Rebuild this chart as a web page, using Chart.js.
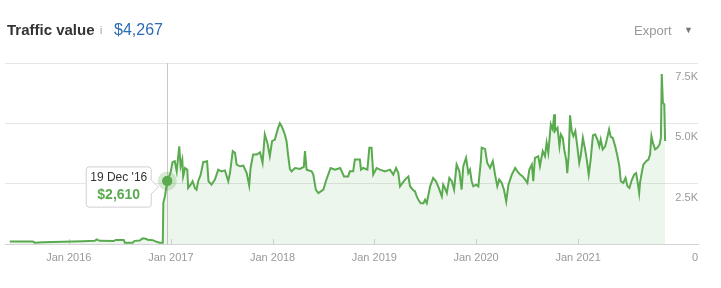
<!DOCTYPE html>
<html>
<head>
<meta charset="utf-8">
<script src="https://cdn.jsdelivr.net/npm/chart.js@4/dist/chart.umd.min.js"></script>
<style>
  html, body { margin: 0; padding: 0; background: #fff; }
  #wrap { position: relative; width: 721px; height: 288px; overflow: hidden; font-family: "Liberation Sans", Arial, sans-serif; }
  #c { position: absolute; left: 0; top: 0; }
  .hd { position: absolute; white-space: nowrap; line-height: 18px; }
  #t1 { left: 7px; top: 21px; font-size: 15px; font-weight: bold; color: #333; }
  #t2 { left: 100px; top: 22px; font-size: 10px; color: #999; }
  #t3 { left: 114px; top: 20.5px; font-size: 16px; color: #2f6db5; }
  #t4 { left: 634px; top: 21.5px; font-size: 13px; color: #999; }
  #t5 { left: 684px; top: 21px; font-size: 9px; color: #777; }
</style>
</head>
<body>
<div id="wrap">
  <canvas id="c" width="721" height="288"></canvas>
  <div class="hd" id="t1">Traffic value</div>
  <div class="hd" id="t2">i</div>
  <div class="hd" id="t3">$4,267</div>
  <div class="hd" id="t4">Export</div>
  <div class="hd" id="t5">&#9660;</div>
</div>
<script>
// ---- data ----
const dates = [
  '2015-06-03','2015-08-25','2015-09-01','2015-09-30','2015-12-10','2016-02-20','2016-04-03','2016-04-10','2016-04-21',
  '2016-06-10','2016-06-17','2016-07-16','2016-07-20','2016-08-17','2016-08-24','2016-09-11','2016-09-22','2016-10-03',
  '2016-10-10','2016-10-28','2016-11-11','2016-11-22','2016-12-03','2016-12-05','2016-12-11','2016-12-19','2016-12-31',
  '2017-01-07','2017-01-15','2017-01-22','2017-01-31','2017-02-05','2017-02-11','2017-02-14','2017-02-21','2017-03-01',
  '2017-03-04','2017-03-13','2017-03-20','2017-03-28','2017-04-03','2017-04-09','2017-04-18','2017-04-27','2017-05-11',
  '2017-05-16','2017-05-27','2017-06-08','2017-06-20','2017-07-02','2017-07-14','2017-07-26','2017-08-01','2017-08-11',
  '2017-08-19','2017-08-25','2017-09-06','2017-09-18','2017-09-30','2017-10-09','2017-10-14','2017-10-23','2017-11-05',
  '2017-11-17','2017-11-26','2017-12-04','2017-12-13','2017-12-22','2017-12-30','2018-01-09','2018-01-21','2018-01-27',
  '2018-02-02','2018-02-07','2018-02-14','2018-02-20','2018-02-26','2018-03-04','2018-03-10','2018-03-22','2018-04-09',
  '2018-04-23','2018-04-27','2018-05-03','2018-05-21','2018-05-27','2018-06-05','2018-06-14','2018-07-02','2018-07-11',
  '2018-07-28','2018-08-13','2018-08-31','2018-09-06','2018-09-14','2018-09-29','2018-10-05','2018-10-17','2018-10-23',
  '2018-11-10','2018-11-14','2018-11-22','2018-12-07','2018-12-14','2018-12-22','2018-12-28','2019-01-09','2019-01-21',
  '2019-02-08','2019-02-26','2019-03-10','2019-03-20','2019-03-28','2019-04-03','2019-04-21','2019-05-03','2019-05-09',
  '2019-05-19','2019-05-27','2019-06-02','2019-06-08','2019-06-16','2019-06-26','2019-07-02','2019-07-08','2019-07-14',
  '2019-07-20','2019-07-31','2019-08-10','2019-08-18','2019-08-31','2019-09-05','2019-09-11','2019-09-18','2019-09-27',
  '2019-10-06','2019-10-14','2019-10-23','2019-11-02','2019-11-10','2019-11-16','2019-11-26','2019-12-04','2019-12-10',
  '2019-12-16','2019-12-22','2020-01-01','2020-01-09','2020-01-18','2020-01-21','2020-02-02','2020-02-10','2020-02-20',
  '2020-03-01','2020-03-09','2020-03-17','2020-03-24','2020-04-02','2020-04-10','2020-04-18','2020-04-26','2020-05-08',
  '2020-05-20','2020-05-28','2020-06-07','2020-06-16','2020-06-25','2020-07-03','2020-07-10','2020-07-19','2020-07-24',
  '2020-07-30','2020-08-11','2020-08-17','2020-08-27','2020-09-04','2020-09-10','2020-09-16','2020-09-25','2020-10-02',
  '2020-10-07','2020-10-10','2020-10-19','2020-10-26','2020-10-31','2020-11-07','2020-11-12','2020-11-19','2020-11-23',
  '2020-11-28','2020-12-03','2020-12-09','2020-12-15','2020-12-22','2020-12-29','2021-01-05','2021-01-10','2021-01-18',
  '2021-01-26','2021-02-01','2021-02-08','2021-02-15','2021-02-23','2021-03-03','2021-03-11','2021-03-18','2021-03-23',
  '2021-03-30','2021-04-08','2021-04-14','2021-04-22','2021-04-28','2021-05-05','2021-05-14','2021-05-22','2021-05-29',
  '2021-06-03','2021-06-12','2021-06-20','2021-06-27','2021-07-04','2021-07-13','2021-07-21','2021-07-28','2021-08-03',
  '2021-08-08','2021-08-11','2021-08-17','2021-08-23','2021-09-02','2021-09-10','2021-09-16','2021-09-21','2021-09-26',
  '2021-10-04','2021-10-12','2021-10-20','2021-10-25','2021-10-28','2021-11-01','2021-11-06','2021-11-09'
];
const values = [
  100,100,55,70,90,110,130,190,130,
  120,170,165,55,55,130,140,235,215,
  180,160,90,55,55,1700,2000,2610,2960,
  3390,3430,3010,4050,3220,3500,2800,3150,3080,
  2320,2460,2600,2320,2250,2600,2875,3390,3430,
  2600,2460,2670,3080,3010,3050,2600,2940,3850,
  3780,3290,3220,3250,2940,2420,3150,3710,3710,
  3800,3360,4540,4200,3640,4260,4330,4820,5000,
  4890,4750,4540,4260,3640,3110,3010,3150,3110,
  3200,3850,3080,3010,2875,2250,2110,2250,2600,
  3150,3080,3150,3010,2800,2800,3010,3010,3500,
  3500,3080,3150,3080,3990,3990,2875,3150,3080,
  3010,3080,2875,3150,2940,2390,2670,2800,2390,
  2250,2180,1970,1830,1690,1690,1830,1690,2040,
  2390,2740,2600,2390,1970,2460,2320,2110,2740,
  2600,2250,3290,3010,2250,3220,3570,2940,3080,
  2600,2390,2460,2390,3430,3990,3940,3360,3150,
  3430,2875,2390,2670,2530,2250,1760,2460,2875,
  3150,3010,2875,2800,2670,2530,3080,3290,2600,
  3570,3640,3220,3850,3640,4200,3780,4960,4750,
  5375,4680,4820,4050,4540,4400,3920,3500,2940,
  3640,5330,4680,4470,4680,4050,3360,3640,4400,
  3920,3500,2875,3500,4500,4540,4330,4050,4330,
  3920,4050,4330,4750,4440,4400,4050,3640,3220,
  2600,2530,2740,2390,2320,2670,2875,2940,2530,
  2110,2530,2940,3290,3430,3500,3710,4470,4200,
  3920,3990,4125,4400,7040,5860,5790,4267
];
const xTickDates = ['2016-01-01','2017-01-01','2018-01-01','2019-01-01','2020-01-01','2021-01-01'];
const xTickLabels = ['Jan 2016','Jan 2017','Jan 2018','Jan 2019','Jan 2020','Jan 2021'];
const yTickValues = [0, 2500, 5000, 7500];
const yTickLabels = ['0', '2.5K', '5.0K', '7.5K'];
const xRange = ['2015-05-17', '2022-03-07'];
const highlightDate = '2016-12-19';
const monthNames = ['Jan','Feb','Mar','Apr','May','Jun','Jul','Aug','Sep','Oct','Nov','Dec'];

// ---- chart ----
const GREEN = '#5aaa50';
const FONT = '"Liberation Sans", Arial, sans-serif';
const toTs = s => Date.parse(s + 'T00:00:00Z');
const points = dates.map((d, i) => ({ x: toTs(d), y: values[i] }));

function fmtDate(ts) {
  const d = new Date(ts);
  return d.getUTCDate() + ' ' + monthNames[d.getUTCMonth()] + " '" + String(d.getUTCFullYear()).slice(2);
}

Chart.Tooltip.positioners.offsetPt = function (items) {
  if (!items.length) return false;
  const el = items[0].element;
  return { x: el.x, y: el.y + 6 };
};

const decor = {
  id: 'decor',
  beforeDatasetsDraw(chart) {
    const ctx = chart.ctx, a = chart.chartArea, xs = chart.scales.x;
    ctx.save();
    ctx.lineWidth = 1;
    ctx.strokeStyle = '#d6d6d6';
    xs.ticks.forEach(t => {
      const px = Math.round(xs.getPixelForValue(t.value)) + 0.5;
      ctx.beginPath(); ctx.moveTo(px, a.bottom); ctx.lineTo(px, a.bottom - 5); ctx.stroke();
    });
    ctx.strokeStyle = '#c8c8c8';
    chart.getActiveElements().forEach(e => {
      const px = Math.round(e.element.x) + 0.5;
      ctx.beginPath(); ctx.moveTo(px, a.top); ctx.lineTo(px, a.bottom); ctx.stroke();
    });
    ctx.restore();
  },
  afterDatasetsDraw(chart) {
    const ctx = chart.ctx;
    chart.getActiveElements().forEach(e => {
      ctx.save();
      ctx.fillStyle = 'rgba(90,170,80,0.25)';
      ctx.beginPath(); ctx.arc(e.element.x, e.element.y, 9.5, 0, Math.PI * 2); ctx.fill();
      ctx.restore();
      e.element.draw(ctx, chart.chartArea);
    });
  }
};

const chart = new Chart(document.getElementById('c'), {
  type: 'line',
  data: {
    datasets: [{
      data: points,
      borderColor: GREEN,
      borderWidth: 2,
      backgroundColor: 'rgba(90,170,80,0.11)',
      fill: 'origin',
      tension: 0,
      pointRadius: 0,
      pointHitRadius: 0,
      pointHoverRadius: 5,
      pointHoverBackgroundColor: GREEN,
      pointHoverBorderColor: GREEN,
      pointHoverBorderWidth: 0
    }]
  },
  options: {
    responsive: false,
    animation: false,
    events: [],
    layout: { padding: { left: 5, right: 23, top: 63, bottom: 0 } },
    scales: {
      x: {
        type: 'linear',
        min: toTs(xRange[0]),
        max: toTs(xRange[1]),
        grid: { display: false, drawTicks: false, tickLength: 0 },
        border: { display: true, color: '#d4d4d4', width: 1 },
        afterBuildTicks: s => { s.ticks = xTickDates.map(d => ({ value: toTs(d) })); },
        afterFit: s => { s.height = 44; },
        ticks: {
          autoSkip: false, maxRotation: 0, padding: 7,
          color: '#999', font: { family: FONT, size: 11 },
          callback: (v, i) => xTickLabels[i]
        }
      },
      y: {
        position: 'right',
        min: 0, max: 7500,
        afterBuildTicks: s => { s.ticks = yTickValues.map(v => ({ value: v })); },
        afterFit: s => { s.width = 0; },
        grid: { color: '#e6e6e6', drawTicks: false },
        border: { display: false },
        ticks: {
          mirror: true, padding: 0, labelOffset: 14,
          color: '#999', font: { family: FONT, size: 11 },
          callback: (v, i) => yTickLabels[i]
        }
      }
    },
    plugins: {
      legend: { display: false },
      tooltip: {
        enabled: true,
        position: 'offsetPt',
        xAlign: 'right', yAlign: 'center',
        backgroundColor: 'rgba(255,255,255,0.96)',
        borderColor: '#d0d0d0', borderWidth: 1, cornerRadius: 3,
        titleColor: '#333', titleFont: { family: FONT, size: 12, weight: 'normal' },
        titleAlign: 'center', titleMarginBottom: 1,
        bodyColor: GREEN, bodyFont: { family: FONT, size: 14, weight: 'bold' },
        bodyAlign: 'center',
        displayColors: false,
        padding: { x: 4, y: 4 },
        caretSize: 7, caretPadding: 9,
        callbacks: {
          title: items => fmtDate(items[0].raw.x),
          label: item => '$' + item.raw.y.toLocaleString('en-US')
        }
      }
    }
  },
  plugins: [decor]
});

const hi = dates.indexOf(highlightDate);
const act = [{ datasetIndex: 0, index: hi }];
chart.setActiveElements(act);
const el = chart.getDatasetMeta(0).data[hi];
chart.tooltip.setActiveElements(act, { x: el.x, y: el.y });
chart.update();
</script>
</body>
</html>
